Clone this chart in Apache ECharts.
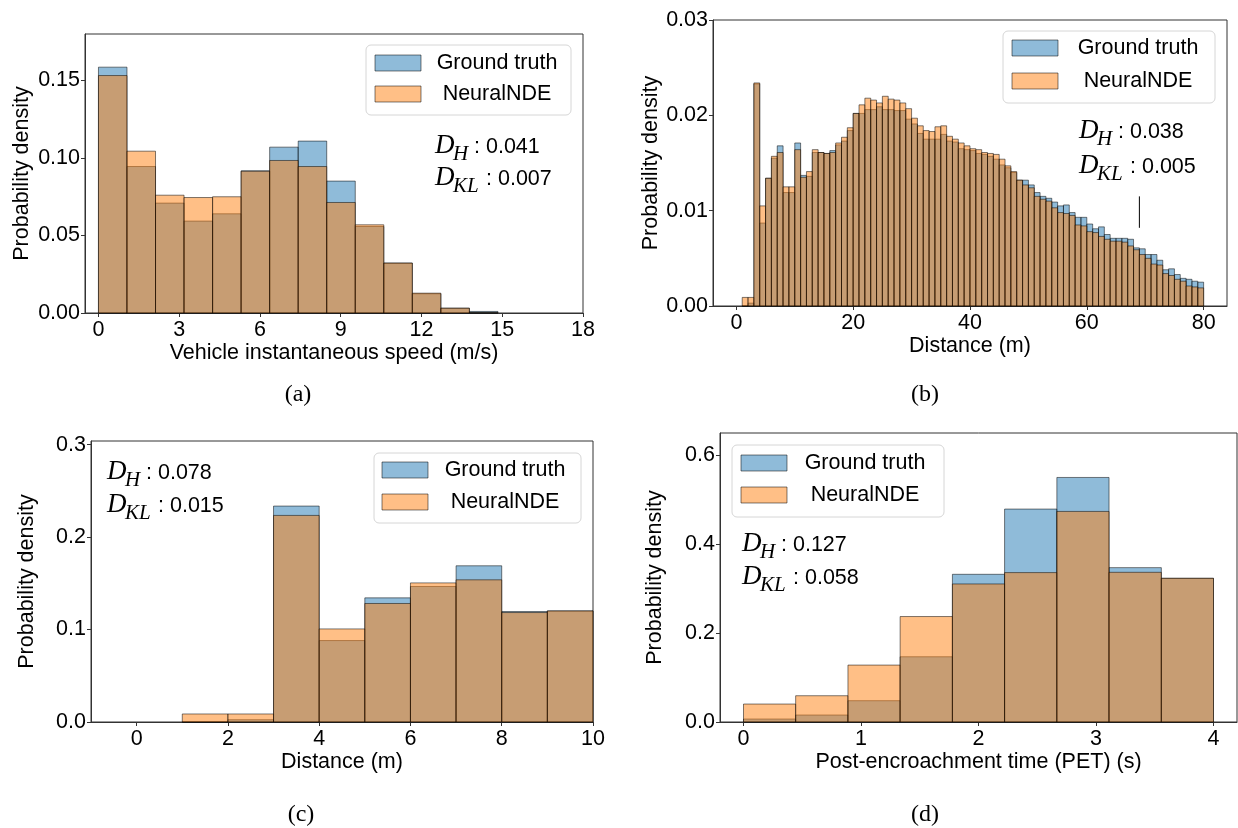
<!DOCTYPE html>
<html>
<head>
<meta charset="utf-8">
<script src="https://cdn.jsdelivr.net/npm/echarts@6/dist/echarts.min.js"></script>
<style>
  html, body { margin: 0; padding: 0; background: #fff; }
  #main { width: 1238px; height: 828px; }
</style>
</head>
<body>
<div id="main"></div>
<script>
// ---- data ----
// (a) vehicle instantaneous speed
var speedEdges = [0, 1.06, 2.12, 3.18, 4.24, 5.30, 6.36, 7.42, 8.48, 9.54, 10.60, 11.66, 12.72, 13.78, 14.84];
var speedTruth = [0.1586, 0.0945, 0.0709, 0.0593, 0.0640, 0.0917, 0.1070, 0.1109, 0.0851, 0.0558, 0.0322, 0.0124, 0.0031, 0.0010];
var speedNde   = [0.1532, 0.1044, 0.0760, 0.0745, 0.0750, 0.0915, 0.0984, 0.0945, 0.0713, 0.0569, 0.0322, 0.0128, 0.0031, 0.0003];
var speedTicks = [0, 3, 6, 9, 12, 15, 18];
var speedYTicks = [0, 0.05, 0.10, 0.15];

// (b) distance, 1 m bins
var distEdges = [1, 2, 3, 4, 5, 6, 7, 8, 9, 10, 11, 12, 13, 14, 15, 16, 17, 18, 19, 20,
  21, 22, 23, 24, 25, 26, 27, 28, 29, 30, 31, 32, 33, 34, 35, 36, 37, 38, 39, 40,
  41, 42, 43, 44, 45, 46, 47, 48, 49, 50, 51, 52, 53, 54, 55, 56, 57, 58, 59, 60,
  61, 62, 63, 64, 65, 66, 67, 68, 69, 70, 71, 72, 73, 74, 75, 76, 77, 78, 79, 80];
var distTruth = [0, 0.0003, 0.0233, 0.0087, 0.0134, 0.0155, 0.0168, 0.0119, 0.0119, 0.0171,
  0.0137, 0.0136, 0.0161, 0.0161, 0.0160, 0.0163, 0.0169, 0.0173, 0.0184, 0.0202,
  0.0202, 0.0206, 0.0206, 0.0209, 0.0206, 0.0206, 0.0205, 0.0205, 0.0196, 0.0191,
  0.0181, 0.0175, 0.0175, 0.0175, 0.0180, 0.0173, 0.0172, 0.0165, 0.0164, 0.0163,
  0.0160, 0.0159, 0.0157, 0.0154, 0.0148, 0.0145, 0.0140, 0.0132, 0.0132, 0.0127,
  0.0119, 0.0115, 0.0113, 0.0109, 0.0105, 0.0106, 0.0098, 0.0093, 0.0093, 0.0086,
  0.0081, 0.0083, 0.0075, 0.0071, 0.0071, 0.0071, 0.0070, 0.0061, 0.0060, 0.0054,
  0.0054, 0.0048, 0.0038, 0.0039, 0.0033, 0.0029, 0.0028, 0.0026, 0.0025];
var distNde = [0.0009, 0.0009, 0.0234, 0.0105, 0.0134, 0.0157, 0.0161, 0.0125, 0.0125, 0.0164,
  0.0135, 0.0141, 0.0164, 0.0161, 0.0160, 0.0161, 0.0171, 0.0177, 0.0187, 0.0202,
  0.0211, 0.0218, 0.0216, 0.0213, 0.0220, 0.0217, 0.0216, 0.0213, 0.0207, 0.0197,
  0.0189, 0.0184, 0.0183, 0.0188, 0.0189, 0.0178, 0.0175, 0.0171, 0.0168, 0.0165,
  0.0164, 0.0161, 0.0160, 0.0159, 0.0154, 0.0147, 0.0141, 0.0132, 0.0127, 0.0124,
  0.0115, 0.0112, 0.0110, 0.0103, 0.0098, 0.0097, 0.0095, 0.0085, 0.0084, 0.0078,
  0.0077, 0.0073, 0.0070, 0.0068, 0.0068, 0.0067, 0.0063, 0.0059, 0.0054, 0.0050,
  0.0044, 0.0043, 0.0034, 0.0032, 0.0028, 0.0026, 0.0021, 0.0020, 0.0019];
var distTicks = [0, 20, 40, 60, 80];
var distYTicks = [0, 0.01, 0.02, 0.03];
var strayMark = [[69, 0.0082], [69, 0.0115]];

// (c) distance, short range
var shortEdges = [1, 2, 3, 4, 5, 6, 7, 8, 9, 10];
var shortTruth = [0, 0.0025, 0.2336, 0.0881, 0.1343, 0.1466, 0.1690, 0.1195, 0.1202];
var shortNde   = [0.0087, 0.0087, 0.2235, 0.1007, 0.1282, 0.1505, 0.1538, 0.1184, 0.1202];
var shortTicks = [0, 2, 4, 6, 8, 10];
var shortYTicks = [0, 0.1, 0.2, 0.3];

// (d) post-encroachment time
var petEdges = [0, 0.444, 0.889, 1.333, 1.778, 2.222, 2.667, 3.111, 3.556, 4];
var petTruth = [0.0067, 0.0157, 0.0479, 0.1467, 0.3322, 0.4789, 0.5500, 0.3472, 0.3232];
var petNde   = [0.0404, 0.0591, 0.1280, 0.2372, 0.3105, 0.3360, 0.4736, 0.3367, 0.3232];
var petTicks = [0, 1, 2, 3, 4];
var petYTicks = [0, 0.2, 0.4, 0.6];

var scores = [
  { dh: '0.041', dkl: '0.007' },
  { dh: '0.038', dkl: '0.005' },
  { dh: '0.078', dkl: '0.015' },
  { dh: '0.127', dkl: '0.058' }
];
var seriesNames = ['Ground truth', 'NeuralNDE'];
var captions = ['(a)', '(b)', '(c)', '(d)'];
var xNames = ['Vehicle instantaneous speed (m/s)', 'Distance (m)', 'Distance (m)', 'Post-encroachment time (PET) (s)'];

// ---- helpers ----
var SANS = '"Liberation Sans", Arial, sans-serif';
var SERIF = '"Liberation Serif", "Times New Roman", serif';
var FS = 21.5;
var C_TRUTH = '#1f77b4';
var C_NDE = '#ff7f0e';

function toBins(edges, vals) {
  return vals.map(function (v, i) { return [edges[i], edges[i + 1], v]; });
}

function histSeries(name, idx, edges, vals, color) {
  return {
    name: name,
    type: 'custom',
    xAxisIndex: idx,
    yAxisIndex: idx,
    encode: { x: [0, 1], y: 2 },
    data: toBins(edges, vals),
    renderItem: function (params, api) {
      var p0 = api.coord([api.value(0), 0]);
      var p1 = api.coord([api.value(1), api.value(2)]);
      return {
        type: 'rect',
        shape: { x: p0[0], y: p1[1], width: p1[0] - p0[0], height: p0[1] - p1[1] },
        style: { fill: color, stroke: '#000', lineWidth: 1, opacity: 0.5 }
      };
    }
  };
}

function xAxisFor(idx, min, max, ticks, name) {
  return {
    type: 'value', gridIndex: idx, min: min, max: max, name: name,
    nameLocation: 'middle', nameGap: 26,
    nameTextStyle: { fontFamily: SANS, fontSize: FS, color: '#000' },
    axisLine: { show: true, onZero: false, lineStyle: { color: '#333', width: 1 } },
    axisTick: { show: true, length: 4, customValues: ticks, lineStyle: { color: '#333' } },
    axisLabel: { customValues: ticks, margin: 6, fontFamily: SANS, fontSize: FS, color: '#000' },
    splitLine: { show: false }
  };
}

function yAxisFor(idx, max, ticks, digits, gap) {
  return {
    type: 'value', gridIndex: idx, min: 0, max: max, name: 'Probability density',
    nameLocation: 'middle', nameGap: gap, nameRotate: 90,
    nameTextStyle: { fontFamily: SANS, fontSize: FS, color: '#000' },
    axisLine: { show: true, onZero: false, lineStyle: { color: '#333', width: 1 } },
    axisTick: { show: true, length: 4, customValues: ticks, lineStyle: { color: '#333' } },
    axisLabel: {
      customValues: ticks, margin: 5, fontFamily: SANS, fontSize: FS, color: '#000',
      formatter: function (v) { return v.toFixed(digits); }
    },
    splitLine: { show: false }
  };
}

function legendGraphic(box, patchX, rowY, textX) {
  var kids = [{
    type: 'rect',
    shape: { x: box[0], y: box[1], width: box[2], height: box[3], r: 5 },
    style: { fill: 'rgba(255,255,255,0.8)', stroke: '#d6d6d6', lineWidth: 1 }
  }];
  [C_TRUTH, C_NDE].forEach(function (c, i) {
    kids.push({
      type: 'rect',
      shape: { x: patchX, y: rowY[i] - 8, width: 46, height: 16 },
      style: { fill: c, stroke: '#000', lineWidth: 1, opacity: 0.5 }
    });
    kids.push({
      type: 'text', x: textX, y: rowY[i],
      style: { text: seriesNames[i], fontFamily: SANS, fontSize: FS, fill: '#000', align: 'center', verticalAlign: 'middle' }
    });
  });
  return { type: 'group', silent: true, children: kids };
}

function scoreText(x, y, sub, val, colonDx) {
  return {
    type: 'group', x: x, y: y, silent: true,
    children: [
      { type: 'text', x: 0, y: -1, style: { text: 'D', fontFamily: SERIF, fontStyle: 'italic', fontSize: 27, fill: '#000', verticalAlign: 'middle' } },
      { type: 'text', x: 18, y: 7, style: { text: sub, fontFamily: SERIF, fontStyle: 'italic', fontSize: 21, fill: '#000', verticalAlign: 'middle' } },
      { type: 'text', x: colonDx, y: 0, style: { text: ': ' + val, fontFamily: SANS, fontSize: FS, fill: '#000', verticalAlign: 'middle' } }
    ]
  };
}

function scorePair(x, y1, y2, s) {
  return [scoreText(x, y1, 'H', s.dh, 39), scoreText(x, y2, 'KL', s.dkl, 51)];
}

function caption(x, y, t) {
  return { type: 'text', x: x, y: y, silent: true,
    style: { text: t, fontFamily: SERIF, fontSize: 24, fill: '#000', align: 'center', verticalAlign: 'middle' } };
}

var grids = [
  { left: 85, top: 34, width: 498, height: 279 },
  { left: 713, top: 20, width: 514, height: 286 },
  { left: 91, top: 441, width: 502, height: 281 },
  { left: 720, top: 433, width: 517, height: 289 }
].map(function (g) {
  g.show = true; g.borderColor = '#333'; g.borderWidth = 1; g.backgroundColor = '#fff'; g.containLabel = false;
  return g;
});

var graphics = []
  .concat([legendGraphic([366, 45, 205, 70], 375, [63, 94], 497)])
  .concat([legendGraphic([1003, 31, 212, 72], 1012, [48, 81], 1138)])
  .concat([legendGraphic([374, 453, 207, 70], 382, [470, 502], 505)])
  .concat([legendGraphic([732, 445, 212, 72], 741, [463, 495], 865)])
  .concat(scorePair(435, 147, 179, scores[0]))
  .concat(scorePair(1079, 132, 167, scores[1]))
  .concat(scorePair(107, 473, 506, scores[2]))
  .concat(scorePair(742, 545, 578, scores[3]))
  .concat([caption(298, 395, captions[0]), caption(925, 395, captions[1]),
           caption(301, 815, captions[2]), caption(925, 815, captions[3])]);

var option = {
  animation: false,
  backgroundColor: '#fff',
  grid: grids,
  xAxis: [
    xAxisFor(0, -0.5, 18, speedTicks, xNames[0]),
    xAxisFor(1, -4, 84, distTicks, xNames[1]),
    xAxisFor(2, -1, 10, shortTicks, xNames[2]),
    xAxisFor(3, -0.2, 4.2, petTicks, xNames[3])
  ],
  yAxis: [
    yAxisFor(0, 0.18, speedYTicks, 2, 52),
    yAxisFor(1, 0.03, distYTicks, 2, 50),
    yAxisFor(2, 0.304, shortYTicks, 1, 53),
    yAxisFor(3, 0.65, petYTicks, 1, 54)
  ],
  series: [
    histSeries(seriesNames[0], 0, speedEdges, speedTruth, C_TRUTH),
    histSeries(seriesNames[1], 0, speedEdges, speedNde, C_NDE),
    histSeries(seriesNames[0], 1, distEdges, distTruth, C_TRUTH),
    histSeries(seriesNames[1], 1, distEdges, distNde, C_NDE),
    {
      type: 'line', xAxisIndex: 1, yAxisIndex: 1, data: strayMark,
      symbol: 'none', silent: true, lineStyle: { color: '#000', width: 1 }
    },
    histSeries(seriesNames[0], 2, shortEdges, shortTruth, C_TRUTH),
    histSeries(seriesNames[1], 2, shortEdges, shortNde, C_NDE),
    histSeries(seriesNames[0], 3, petEdges, petTruth, C_TRUTH),
    histSeries(seriesNames[1], 3, petEdges, petNde, C_NDE)
  ],
  graphic: { elements: graphics }
};

var chart = echarts.init(document.getElementById('main'), null, { renderer: 'canvas' });
chart.setOption(option);
</script>
</body>
</html>
